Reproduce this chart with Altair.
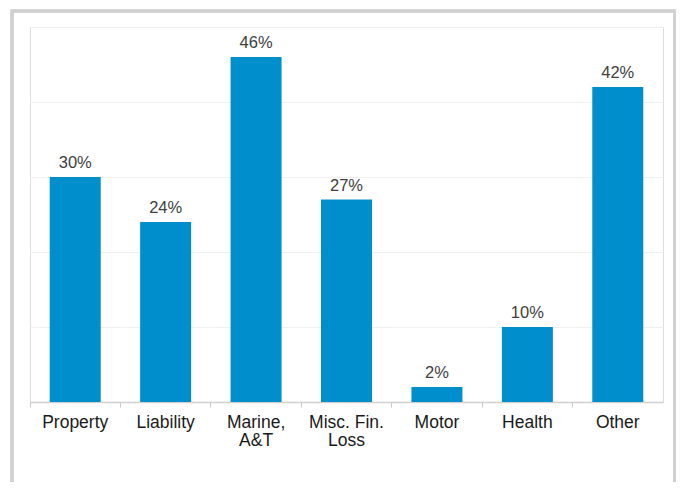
import altair as alt
import pandas as pd

categories = ["Property", "Liability", "Marine,\nA&T", "Misc. Fin.\nLoss", "Motor", "Health", "Other"]
values = [30, 24, 46, 27, 2, 10, 42]
labels = [f"{v}%" for v in values]

df = pd.DataFrame({"cat": categories, "val": values, "lbl": labels})

x = alt.X(
    "cat:N",
    sort=categories,
    title=None,
    scale=alt.Scale(paddingInner=0, paddingOuter=0),
    axis=alt.Axis(
        labelAngle=0,
        bandPosition=0,
        labelExpr="split(datum.label, '\\n')",
        labelFont="Liberation Sans",
        labelFontSize=17.5,
        labelColor="#1a1a1a",
        labelLineHeight=18,
        labelPadding=6,
        labelBaseline="top",
        tickSize=5,
        tickColor="#c8c8c8",
        domainColor="#d0d0d0",
        domainWidth=1.5,
        grid=False,
    ),
)
y = alt.Y(
    "val:Q",
    title=None,
    scale=alt.Scale(domain=[0, 50], nice=False),
    axis=alt.Axis(
        values=[10, 20, 30, 40, 50],
        labels=False,
        ticks=False,
        domain=False,
        grid=True,
        gridColor="#efefef",
        gridWidth=1,
    ),
)

bars = alt.Chart(df).mark_bar(color="#008fcc", width=alt.RelativeBandSize(0.564)).encode(x=x, y=y)
text = alt.Chart(df).mark_text(
    font="Liberation Sans", fontSize=16.5, color="#404040", baseline="alphabetic", dy=-9
).encode(x=x, y=y, text="lbl:N")

border = alt.Chart(df).mark_rect(fill=None, stroke="#d0d0d0", strokeWidth=2.5, clip=False).encode(
    x=alt.value(-18), x2=alt.value(644.5), y=alt.value(-16), y2=alt.value(490)
)

chart = (
    alt.layer(border, bars, text)
    .properties(
        width=633,
        height=375,
        autosize=alt.AutoSizeParams(type="none"),
        padding={"left": 22, "top": 19, "right": 13, "bottom": 80},
    )
    .configure_view(strokeWidth=0, stroke="transparent")
    .configure(background="white")
)

chart.save("out.html", embed_options={"renderer": "svg", "actions": False})
